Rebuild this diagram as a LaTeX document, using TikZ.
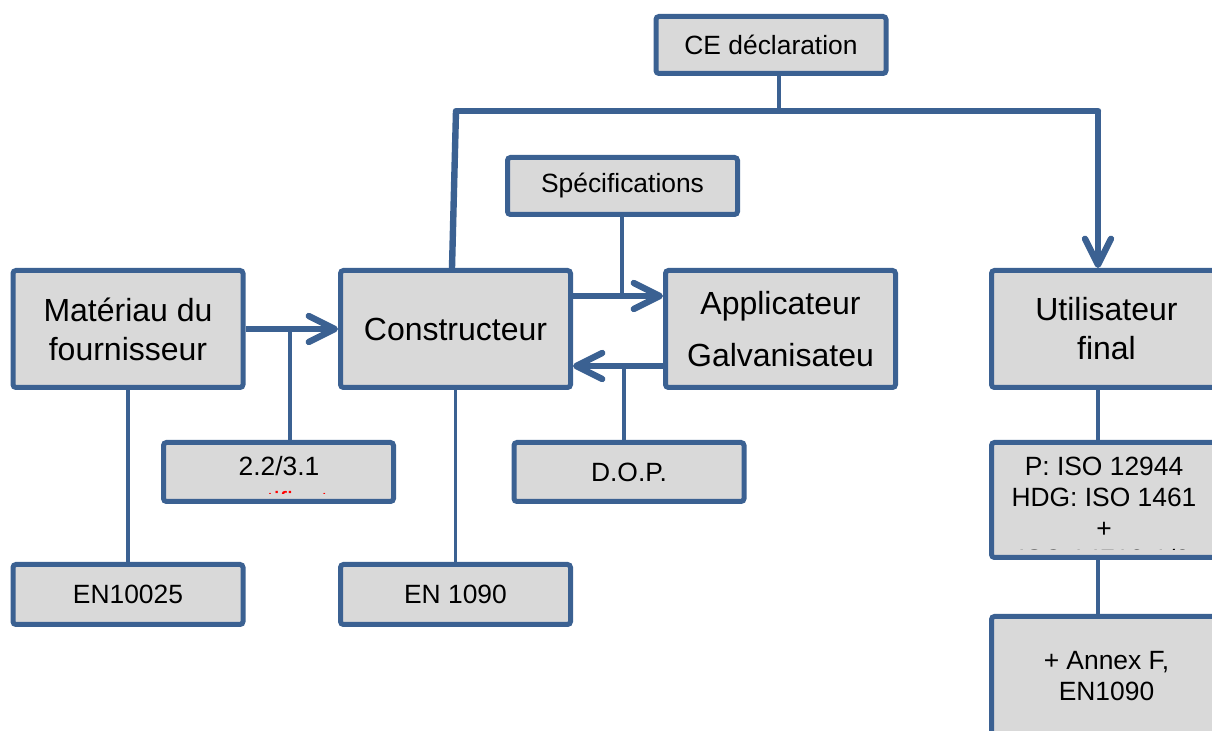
\documentclass[tikz,border=0pt]{standalone}
\usepackage{fontspec}
\setmainfont{Liberation Sans}
\usetikzlibrary{arrows.meta,calc}
\definecolor{bord}{RGB}{59,97,146}
\definecolor{boxfill}{RGB}{217,217,217}
\definecolor{redtxt}{RGB}{255,0,0}
\begin{document}
\begin{tikzpicture}[x=0.5pt,y=-0.5pt,
  box/.style={draw=bord,fill=boxfill,line width=2.5pt,rounded corners=1.5pt,inner sep=0pt,align=center,minimum width=115pt},
  big/.style={font=\fontsize{16}{19.5}\selectfont},
  small/.style={font=\fontsize{13.2}{15.5}\selectfont},
  lite/.style={draw=bord,line width=1.6pt},
  heavy/.style={draw=bord,line width=3.2pt},
  arr/.style={heavy,-{Straight Barb[length=13pt,width=13pt,line width=3.2pt,round]}}
]
\useasboundingbox (0,0) rectangle (1212,731);
\begin{scope}
\clip (0,0) rectangle (1212,731);
% boxes
\node[box,small,minimum height=28.5pt] (ce) at (771,45) {CE déclaration};
\node[box,small,minimum height=28.5pt] (spec) at (622.5,186) {Spécifications};
\node[box,big,minimum height=58.5pt] (mat) at (128,329) {Matériau du\\fournisseur};
\node[box,big,minimum height=58.5pt] (cons) at (455.5,329) {Constructeur};
\node[box,font=\fontsize{16}{26}\selectfont,minimum height=58.5pt] (app) at (780.5,329) {Applicateur\\Galvanisateu};
\node[box,big,minimum height=58.5pt] (util) at (1106.5,329) {Utilisateur\\final};
\node[box,minimum height=29.5pt] (cert) at (278.5,472) {};
\node[small,anchor=base] (certt) at (279,476) {2.2/3.1};
\node[box,small,minimum height=29.5pt] (dop) at (629,472) {D.O.P.};
\node[box,minimum height=57.5pt] (iso) at (1106.5,500) {};
\node[small,align=center,anchor=north,inner sep=0pt] (isot) at (1104,457) {P: ISO 12944\\HDG: ISO 1461\\+};
\node[box,small,minimum height=30pt] (en1) at (128,594.5) {EN10025};
\node[box,small,minimum height=30pt] (en2) at (455.5,594.5) {EN 1090};
\node[box,small,minimum height=59.5pt] (annex) at (1106.5,676) {+ Annex F,\\EN1090};
% clipped partial texts
\begin{scope}
\clip (170,470) rectangle (390,494);
\node[small,text=redtxt,anchor=base] (certr) at (279,511) {certificat};
\end{scope}
\begin{scope}
\clip (998,520) rectangle (1212,549.5);
\node[small,anchor=base] (isor) at (1104,569) {ISO 14713-1/2};
\end{scope}
% connectors
\coordinate (cej) at (779,111);
\coordinate (tl) at (456,111);
\coordinate (tr) at (1098,111);
\draw[lite] (cej |- ce.south) -- (cej);
\draw[heavy,line cap=round] (tl) -- (tr);
\draw[heavy] (tl) -- ($(cons.north)+(-3.5,0)$);
\draw[arr] (tr) -- (tr |- util.north);
\draw[arr] (mat.east) -- (cons.west);
\coordinate (j1) at (290,329);
\draw[lite] (j1) -- (j1 |- cert.north);
\draw[arr] ($(cons.east)+(0,-33)$) -- ($(app.west)+(0,-33)$);
\draw[arr] ($(app.west)+(0,37)$) -- ($(cons.east)+(0,37)$);
\coordinate (j2) at (622,296);
\draw[lite] (spec.south -| j2) -- (j2);
\coordinate (j3) at (624,366);
\draw[lite] (j3) -- (j3 |- dop.north);
\draw[lite] (mat.south) -- (en1.north);
\draw[lite] (cons.south) -- (en2.north);
\coordinate (j4) at (1098,390);
\draw[lite] (j4 |- util.south) -- (j4 |- iso.north);
\draw[lite] (j4 |- iso.south) -- (j4 |- annex.north);
\end{scope}
\end{tikzpicture}
\end{document}
